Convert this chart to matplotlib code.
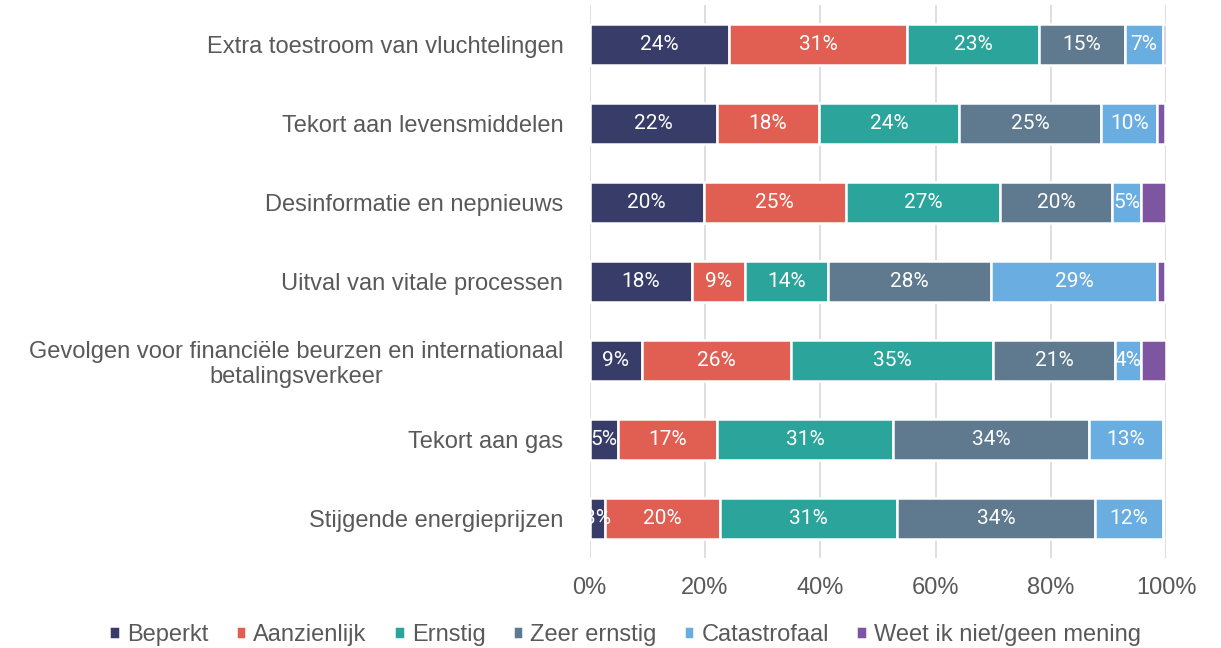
import numpy as np
import matplotlib
matplotlib.use('Agg')
import matplotlib.pyplot as plt

# Categories (top to bottom) and shares per answer
categories = ['Extra toestroom van vluchtelingen',
              'Tekort aan levensmiddelen',
              'Desinformatie en nepnieuws',
              'Uitval van vitale processen',
              'Gevolgen voor financiële beurzen en internationaal\nbetalingsverkeer',
              'Tekort aan gas',
              'Stijgende energieprijzen']
series = ['Beperkt', 'Aanzienlijk', 'Ernstig', 'Zeer ernstig', 'Catastrofaal',
          'Weet ik niet/geen mening']
beperkt = [24.1, 22.0, 19.8, 17.7, 9.0, 4.9, 2.6]
aanzienlijk = [31.0, 17.7, 24.6, 9.2, 25.9, 17.2, 20.0]
ernstig = [22.9, 24.4, 26.8, 14.4, 35.1, 30.6, 30.7]
zeer_ernstig = [14.8, 24.6, 19.5, 28.3, 21.2, 34.0, 34.4]
catastrofaal = [6.6, 9.8, 4.9, 28.9, 4.4, 12.7, 11.7]
weet_niet = [0.6, 1.4, 4.4, 1.3, 4.4, 0.0, 0.0]
ticks = [0, 20, 40, 60, 80, 100]

colors = ['#383C68', '#E05F52', '#2BA59B', '#5F7A8E', '#6AADE0', '#7E55A0']
grey = '#595959'

data = [beperkt, aanzienlijk, ernstig, zeer_ernstig, catastrofaal, weet_niet]

fig = plt.figure(figsize=(12.21, 6.48), dpi=100)
ax = fig.add_axes([0.483, 0.139, 0.472, 0.853])

y = np.arange(len(categories))
left = np.zeros(len(categories))
for k, (name, vals) in enumerate(zip(series, data)):
    vals = np.array(vals)
    ax.barh(y, vals, left=left, height=0.52, color=colors[k],
            edgecolor='white', linewidth=1.8, label=name, zorder=3)
    if k < 5:
        for i, v in enumerate(vals):
            if v > 0:
                ax.text(left[i] + v / 2, y[i], '{:d}%'.format(int(round(v))),
                        ha='center', va='center', color='white',
                        fontsize=15, family='Roboto', zorder=4)
    left += vals

ax.set_xlim(0, 100)
ax.set_ylim(len(categories) - 0.5, -0.5)
ax.set_xticks(ticks)
ax.set_xticklabels(['{}%'.format(t) for t in ticks], fontsize=17,
                   color=grey, family='Liberation Sans')
ax.set_yticks(y)
ax.set_yticklabels(categories, fontsize=17, color=grey,
                   family='Liberation Sans', multialignment='center')
ax.tick_params(axis='y', length=0, pad=19)
ax.tick_params(axis='x', length=0, pad=14)
for s in ax.spines.values():
    s.set_visible(False)
ax.grid(axis='x', color='#D9D9D9', linewidth=1.2, zorder=0)
ax.set_axisbelow(True)

fig.legend(loc='center', bbox_to_anchor=(0.512, 0.02), ncol=6, frameon=False,
           handlelength=0.45, handleheight=0.45, handletextpad=0.3,
           columnspacing=1.15, prop={'family': 'Liberation Sans', 'size': 17},
           labelcolor=grey)

fig.savefig('out.png', dpi=100)
